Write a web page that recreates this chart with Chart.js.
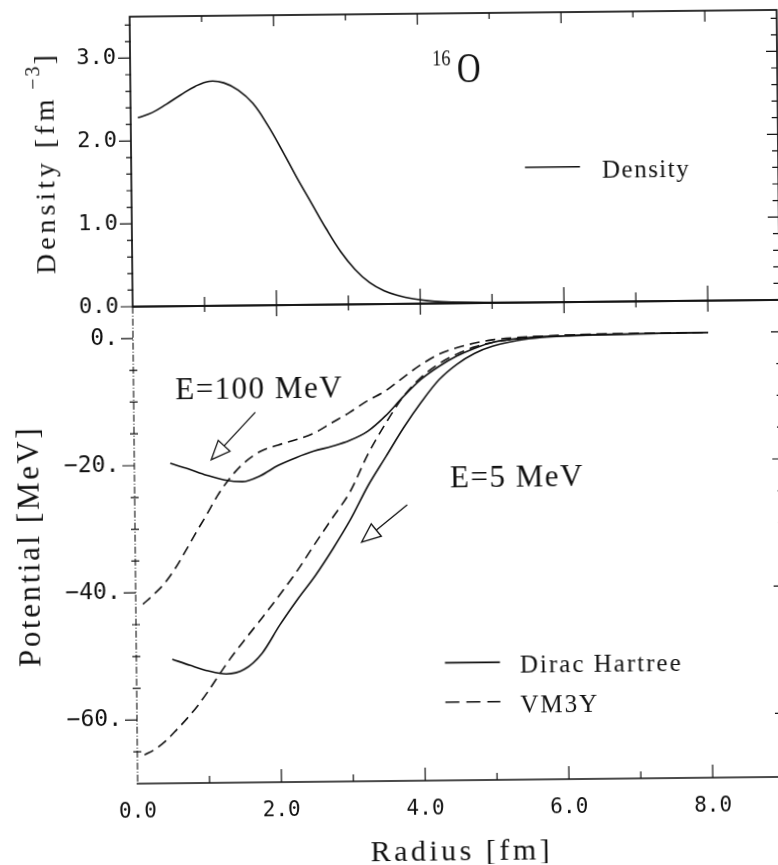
<!DOCTYPE html>
<html>
<head>
<meta charset="utf-8">
<title>16O density and potentials</title>
<script src="https://cdn.jsdelivr.net/npm/chart.js@4.4.1/dist/chart.umd.min.js"></script>
<style>
  html, body { margin: 0; padding: 0; background: #fff; overflow: hidden; }
  /* the scanned figure sits a little crooked, so the page is turned a bit */
  #page { position: relative; width: 800px; height: 865px; transform: rotate(-0.6deg); transform-origin: 389px 432px; }
  #page canvas { position: absolute; left: 0; top: 0; }
</style>
</head>
<body>
<div id="page">
  <canvas id="densityChart" width="800" height="330"></canvas>
  <canvas id="potentialChart" width="800" height="865"></canvas>
</div>
<script>
// --- DATA --- //
const seriesNames = ['Density', 'Dirac Hartree', 'VM3Y']

// density of 16O (top panel)
const radiusDensity = [0.1, 0.3, 0.5, 0.7, 0.9, 1.1, 1.3, 1.5, 1.7, 1.9, 2.1, 2.3, 2.5, 2.7, 2.9, 3.1, 3.3, 3.5, 3.7, 3.9, 4.1, 4.3, 4.6, 5.0, 6.0, 7.0, 8.0]
const density = [2.28, 2.34, 2.44, 2.55, 2.65, 2.71, 2.69, 2.60, 2.44, 2.18, 1.87, 1.54, 1.23, 0.92, 0.64, 0.42, 0.26, 0.16, 0.10, 0.06, 0.035, 0.02, 0.01, 0.005, 0, 0, 0]

// Dirac Hartree potentials (solid)
const radiusDirac = [0.5, 0.75, 1.0, 1.25, 1.5, 1.75, 2.0, 2.25, 2.5, 2.75, 3.0, 3.25, 3.5, 3.75, 4.0, 4.25, 4.5, 4.75, 5.0, 5.5, 6.0, 7.0, 8.0]
const diracE100 = [-19.7, -20.6, -21.6, -22.4, -22.7, -21.8, -20.2, -19.0, -18.0, -17.3, -16.4, -15.0, -12.6, -9.6, -6.9, -4.9, -3.3, -2.1, -1.2, -0.5, -0.3, -0.1, 0]
const diracE5 = [-50.5, -51.5, -52.4, -52.9, -52.2, -49.7, -45.3, -41.3, -37.6, -33.4, -28.8, -23.5, -19.0, -14.5, -10.5, -7.0, -4.6, -2.9, -1.8, -0.7, -0.3, -0.1, 0]

// VM3Y potentials (dashed)
const radiusVm3y = [0.1, 0.25, 0.4, 0.55, 0.7, 0.85, 1.0, 1.15, 1.3, 1.5, 1.75, 2.0, 2.25, 2.5, 2.75, 3.0, 3.25, 3.5, 3.75, 4.0, 4.25, 4.5, 4.75, 5.0, 5.5, 6.0, 7.0, 8.0]
const vm3yE100 = [-41.8, -40.3, -38.6, -36.3, -33.5, -30.6, -27.8, -24.9, -22.5, -20.0, -18.0, -17.0, -16.2, -15.2, -13.6, -12.0, -10.2, -8.7, -6.6, -4.6, -3.0, -2.0, -1.3, -0.8, -0.4, -0.2, -0.05, 0]
const vm3yE5 = [-65.5, -64.6, -63.3, -61.6, -59.8, -57.8, -55.5, -53.0, -50.6, -47.7, -44.2, -40.6, -36.8, -32.6, -28.5, -24.4, -18.6, -13.8, -9.6, -6.6, -4.5, -3.0, -1.9, -1.2, -0.5, -0.2, -0.05, 0]

// ticks
const densityTicks = [0, 1, 2, 3]
const densityTickLabels = ['0.0', '1.0', '2.0', '3.0']
const potentialTicks = [0, -20, -40, -60]
const potentialTickLabels = ['0.', '−20.', '−40.', '−60.']
const radiusTicks = [0, 2, 4, 6, 8]
const radiusTickLabels = ['0.0', '2.0', '4.0', '6.0', '8.0']

// --- STYLE HELPERS --- //
const ink = '#111'
const serif = "'Liberation Serif', 'DejaVu Serif', serif"
const mono = "'DejaVu Sans Mono', monospace"

function curve (label, xs, ys, dashed, smooth) {
  return {
    label,
    data: xs.map((x, i) => ({ x, y: ys[i] })),
    borderColor: ink,
    borderWidth: 1.6,
    borderDash: dashed ? [10, 6] : [],
    pointRadius: 0,
    cubicInterpolationMode: smooth ? 'default' : 'monotone',
    tension: 0.4,
    fill: false
  }
}

function seg (ctx, x1, y1, x2, y2) {
  ctx.moveTo(x1, y1)
  ctx.lineTo(x2, y2)
}

// text with the wide, evenly spaced look of the plotter font
function write (ctx, text, x, y, size, spacing, align) {
  ctx.font = `${size}px ${serif}`
  ctx.letterSpacing = `${spacing}px`
  ctx.textAlign = align || 'left'
  ctx.textBaseline = 'alphabetic'
  ctx.fillStyle = ink
  ctx.fillText(text, x, y)
  ctx.letterSpacing = '0px'
}

function arrow (ctx, x0, y0, x1, y1) {
  const ang = Math.atan2(y1 - y0, x1 - x0)
  const len = 19
  const half = 8
  const bx = x1 - len * Math.cos(ang)
  const by = y1 - len * Math.sin(ang)
  ctx.beginPath()
  seg(ctx, x0, y0, bx, by)
  ctx.moveTo(x1, y1)
  ctx.lineTo(bx + half * Math.sin(ang), by - half * Math.cos(ang))
  ctx.lineTo(bx - half * Math.sin(ang), by + half * Math.cos(ang))
  ctx.closePath()
  ctx.stroke()
}

// keep the plot area exactly where the layout padding puts it
function fixedWidth (w) {
  return s => {
    s.width = w
    s.paddingTop = 0
    s.paddingBottom = 0
  }
}

// --- TOP PANEL | DENSITY --- //
const densityDecor = {
  id: 'densityDecor',
  afterDraw (chart) {
    const { ctx, chartArea: a, scales: { x, y } } = chart
    ctx.save()
    ctx.strokeStyle = ink
    ctx.lineWidth = 1.7
    ctx.strokeRect(a.left, a.top, a.right - a.left, a.bottom - a.top)

    // ticks: left outward, right inward, every 0.2
    ctx.lineWidth = 1.2
    ctx.beginPath()
    for (let i = 1; i <= 17; i++) {
      const py = y.getPixelForValue(i * 0.2)
      const major = i % 5 === 0
      seg(ctx, a.left - (major ? 12 : 5), py, a.left + (major ? 0 : 1), py)
      seg(ctx, a.right - (major ? 11 : 6), py, a.right, py)
    }
    seg(ctx, a.left - 12, a.bottom, a.left, a.bottom)
    for (let r = 1; r <= 8; r++) {
      const px = x.getPixelForValue(r)
      const even = r % 2 === 0
      seg(ctx, px, a.top, px, a.top + (even ? 11 : 6))
      seg(ctx, px, a.bottom, px, a.bottom - (even ? 15 : 9))
    }
    ctx.stroke()

    // y title with superscript
    ctx.save()
    ctx.translate(a.left - 77, (a.top + a.bottom) / 2)
    ctx.rotate(-Math.PI / 2)
    ctx.fillStyle = ink
    ctx.textBaseline = 'alphabetic'
    ctx.textAlign = 'left'
    ctx.font = `28px ${serif}`
    ctx.letterSpacing = '4px'
    const main = 'Density [fm'
    const w1 = ctx.measureText(main).width
    const w3 = ctx.measureText(']').width
    ctx.font = `20px ${serif}`
    ctx.letterSpacing = '2px'
    const w2 = ctx.measureText('−3').width + 6
    const sx = -(w1 + w2 + w3) / 2
    ctx.font = `28px ${serif}`
    ctx.letterSpacing = '4px'
    ctx.fillText(main, sx, 0)
    ctx.font = `20px ${serif}`
    ctx.letterSpacing = '2px'
    ctx.fillText('−3', sx + w1 + 6, -14)
    ctx.font = `28px ${serif}`
    ctx.letterSpacing = '4px'
    ctx.fillText(']', sx + w1 + w2, 0)
    ctx.letterSpacing = '0px'
    ctx.restore()

    // nucleus label 16O
    ctx.save()
    ctx.translate(x.getPixelForValue(4.2), y.getPixelForValue(2.878))
    ctx.scale(0.8, 1)
    write(ctx, '16', 0, 0, 23, 0)
    ctx.restore()
    ctx.save()
    ctx.translate(x.getPixelForValue(4.545), y.getPixelForValue(2.67))
    ctx.scale(0.78, 1)
    write(ctx, 'O', 0, 0, 42, 0)
    ctx.restore()

    // legend
    const ly = y.getPixelForValue(1.633)
    ctx.lineWidth = 1.6
    ctx.beginPath()
    seg(ctx, x.getPixelForValue(5.477), ly, x.getPixelForValue(6.242), ly)
    ctx.stroke()
    write(ctx, chart.data.datasets[0].label, x.getPixelForValue(6.548), y.getPixelForValue(1.5), 25, 1.5)
    ctx.restore()
  }
}

new Chart(document.getElementById('densityChart'), {
  type: 'line',
  data: { datasets: [curve(seriesNames[0], radiusDensity, density, false, true)] },
  options: {
    responsive: false,
    animation: false,
    events: [],
    layout: { padding: { left: 0, top: 14, right: 19, bottom: 26 } },
    plugins: { legend: { display: false }, tooltip: { enabled: false } },
    scales: {
      x: { type: 'linear', min: 0, max: 9, display: false },
      y: {
        type: 'linear',
        min: 0,
        max: 3.5,
        afterFit: fixedWidth(134),
        afterBuildTicks: s => { s.ticks = densityTicks.map(v => ({ value: v })) },
        grid: { display: false, drawTicks: false },
        border: { display: false },
        ticks: {
          padding: 14,
          color: ink,
          font: { family: mono, size: 22 },
          callback: (v, i) => densityTickLabels[i]
        }
      }
    }
  },
  plugins: [densityDecor]
})

// --- BOTTOM PANEL | POTENTIALS --- //
const potentialNotes = [
  { text: 'E=100 MeV', r: 0.58, v: -9.6 },
  { text: 'E=5 MeV', r: 4.39, v: -24.0 }
]
const potentialArrows = [
  { from: [1.69, -11.8], to: [1.07, -19.2] },
  { from: [3.79, -26.6], to: [3.15, -32.4] }
]

const potentialDecor = {
  id: 'potentialDecor',
  afterDraw (chart) {
    const { ctx, chartArea: a, scales: { x, y } } = chart
    ctx.save()
    ctx.strokeStyle = ink
    ctx.lineWidth = 1.7
    ctx.beginPath()
    seg(ctx, a.left, a.top, a.right, a.top)
    seg(ctx, a.right, a.top, a.right, a.bottom)
    seg(ctx, a.left - 1, a.bottom, a.right, a.bottom)
    ctx.stroke()

    // the left axis of the scan is a faint broken line
    ctx.lineWidth = 1.1
    ctx.setLineDash([7, 2, 1, 2])
    ctx.beginPath()
    seg(ctx, a.left, a.top, a.left, a.bottom)
    ctx.stroke()
    ctx.setLineDash([])

    ctx.lineWidth = 1.2
    ctx.beginPath()
    for (let v = 0; v >= -65; v -= 5) {
      const py = y.getPixelForValue(v)
      const major = v % 20 === 0
      if (major) seg(ctx, a.left - 12, py, a.left, py)
      else seg(ctx, a.left - 4, py, a.left + 4, py)
      seg(ctx, a.right - (major ? 9 : 4), py, a.right, py)
    }
    for (let r = 1; r <= 8; r++) {
      const px = x.getPixelForValue(r)
      const even = r % 2 === 0
      seg(ctx, px, a.top, px, a.top + (even ? 11 : 6))
      seg(ctx, px, a.bottom, px, a.bottom - (even ? 13 : 7))
    }
    ctx.stroke()

    // axis titles
    ctx.save()
    ctx.translate(a.left - 96, (a.top + a.bottom) / 2)
    ctx.rotate(-Math.PI / 2)
    write(ctx, 'Potential [MeV]', 0, 0, 31, 2.6, 'center')
    ctx.restore()
    write(ctx, 'Radius [fm]', (a.left + a.right) / 2, a.bottom + 80, 30, 3.5, 'center')

    // energy labels and arrows
    potentialNotes.forEach(n => write(ctx, n.text, x.getPixelForValue(n.r), y.getPixelForValue(n.v), 31, 1.5))
    ctx.lineWidth = 1.3
    potentialArrows.forEach(ar => arrow(ctx,
      x.getPixelForValue(ar.from[0]), y.getPixelForValue(ar.from[1]),
      x.getPixelForValue(ar.to[0]), y.getPixelForValue(ar.to[1])))

    // legend
    const rows = [
      { name: seriesNames[1], dash: [], v: -51.5, tv: -53.2 },
      { name: seriesNames[2], dash: [14, 7], v: -57.7, tv: -59.4 }
    ]
    rows.forEach(row => {
      const py = y.getPixelForValue(row.v)
      ctx.lineWidth = 1.6
      ctx.setLineDash(row.dash)
      ctx.beginPath()
      seg(ctx, x.getPixelForValue(4.292), py, x.getPixelForValue(5.057), py)
      ctx.stroke()
      ctx.setLineDash([])
      write(ctx, row.name, x.getPixelForValue(5.335), y.getPixelForValue(row.tv), 25, 2)
    })
    ctx.restore()
  }
}

new Chart(document.getElementById('potentialChart'), {
  type: 'line',
  data: {
    datasets: [
      curve(seriesNames[1] + ' E=100', radiusDirac, diracE100, false),
      curve(seriesNames[1] + ' E=5', radiusDirac, diracE5, false),
      curve(seriesNames[2] + ' E=100', radiusVm3y, vm3yE100, true),
      curve(seriesNames[2] + ' E=5', radiusVm3y, vm3yE5, true)
    ]
  },
  options: {
    responsive: false,
    animation: false,
    events: [],
    layout: { padding: { left: 0, top: 304, right: 19, bottom: 0 } },
    plugins: { legend: { display: false }, tooltip: { enabled: false } },
    scales: {
      x: {
        type: 'linear',
        min: 0,
        max: 9,
        afterFit: s => {
          s.height = 84
          s.paddingLeft = 0
          s.paddingRight = 0
        },
        afterBuildTicks: s => { s.ticks = radiusTicks.map(v => ({ value: v })) },
        grid: { display: false, drawTicks: false },
        border: { display: false },
        ticks: {
          padding: 16,
          autoSkip: false,
          maxRotation: 0,
          color: ink,
          font: { family: mono, size: 21 },
          callback: (v, i) => radiusTickLabels[i]
        }
      },
      y: {
        type: 'linear',
        min: -70,
        max: 5,
        afterFit: fixedWidth(134),
        afterBuildTicks: s => { s.ticks = potentialTicks.map(v => ({ value: v })) },
        grid: { display: false, drawTicks: false },
        border: { display: false },
        ticks: {
          padding: 15,
          color: ink,
          font: { family: mono, size: 23 },
          callback: (v, i) => potentialTickLabels[i]
        }
      }
    }
  },
  plugins: [potentialDecor]
})
</script>
</body>
</html>
